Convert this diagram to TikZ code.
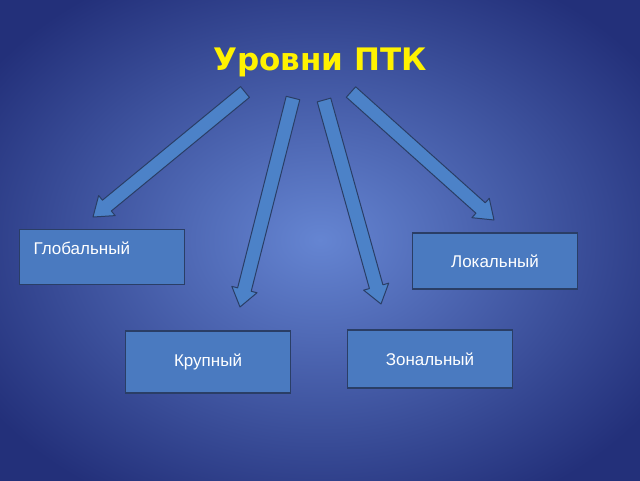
\documentclass[tikz,border=0pt]{standalone}
\usepackage{fontspec}
\setmainfont{Liberation Sans}
\newfontfamily\titlefont{DejaVu Sans}
\usetikzlibrary{calc}
\definecolor{bgin}{HTML}{6585D2}
\definecolor{bgout}{HTML}{23307A}
\definecolor{boxfill}{HTML}{4A7AC0}
\definecolor{boxline}{HTML}{2A3E66}
\definecolor{arrfill}{HTML}{4C82C8}
\definecolor{ttl}{HTML}{FFF200}
\tikzset{
  lvl/.style={draw=boxline, line width=1.2pt, fill=boxfill, minimum width=165pt, minimum height=56pt, font=\fontsize{17}{20}\selectfont, text=white},
  fat/.style={draw=boxline, line width=1pt, fill=arrfill, line join=round}
}
\newcommand{\fatarrow}[3]{%
  \coordinate (#3c) at ($(#2)!18pt!(#1)$);
  \draw[fat] ($(#1)!7pt!90:(#2)$) -- ($(#3c)!7pt!-90:(#1)$) -- ($(#3c)!13pt!-90:(#1)$) -- (#2)
     -- ($(#3c)!13pt!90:(#1)$) -- ($(#3c)!7pt!90:(#1)$) -- ($(#1)!7pt!-90:(#2)$) -- cycle;}
\begin{document}
\begin{tikzpicture}[x=1pt,y=-1pt]
\useasboundingbox (0,0) rectangle (640,480);
\shade[inner color=bgin, outer color=bgout] (-80,-60) rectangle (720,540);
\node[font=\titlefont\bfseries\fontsize{31}{36}\selectfont, text=ttl] (title) at (320,62) {Уровни ПТК};
\node[lvl, minimum height=55pt] (glob) at (102,257) {};
\node[font=\fontsize{17}{20}\selectfont, text=white, anchor=west] (globt) at (30,248) {Глобальный};
\node[lvl] (lok) at (495,261) {Локальный};
\node[lvl, minimum height=62pt] (krup) at (208,362) {Крупный};
\node[lvl, minimum height=58pt] (zon) at (430,359) {Зональный};
\coordinate (a1s) at (245,92); \coordinate (a1e) at (93,217);
\coordinate (a2s) at (293,98); \coordinate (a2e) at (240,307);
\coordinate (a3s) at (324,100); \coordinate (a3e) at (381,304);
\coordinate (a4s) at (351,92); \coordinate (a4e) at (494,220);
\fatarrow{a1s}{a1e}{x1}
\fatarrow{a2s}{a2e}{x2}
\fatarrow{a3s}{a3e}{x3}
\fatarrow{a4s}{a4e}{x4}
\end{tikzpicture}
\end{document}
